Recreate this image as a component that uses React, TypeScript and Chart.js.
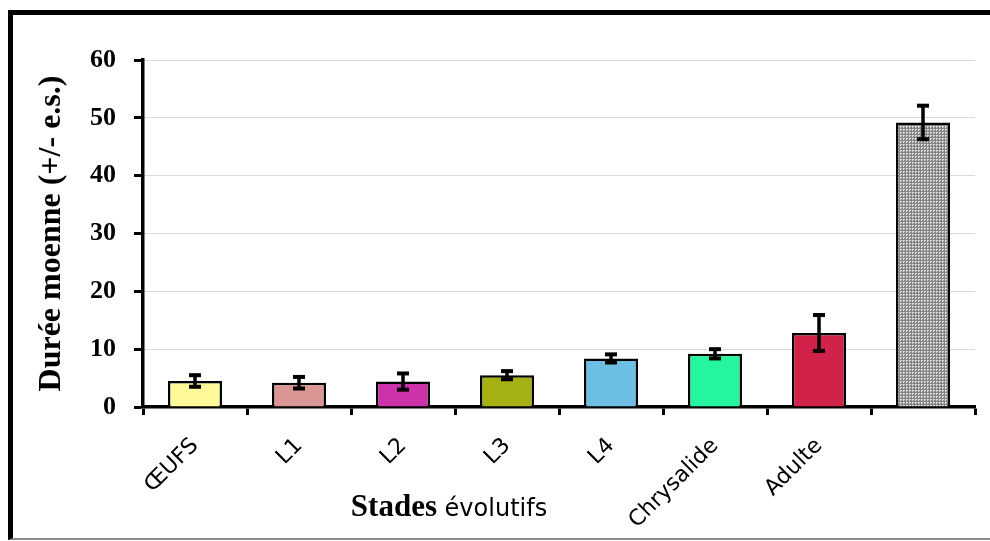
import React, { useEffect, useRef } from "react";
import { Chart, registerables } from "chart.js";

Chart.register(...registerables);

const categories = ["ŒUFS", "L1", "L2", "L3", "L4", "Chrysalide", "Adulte", ""];
const means = [4.5, 4.2, 4.4, 5.5, 8.4, 9.2, 12.8, 49.2];
const errors = [1.0, 1.0, 1.4, 0.7, 0.7, 0.8, 3.1, 2.9];
const barColors = ["#FFFA99", "#DA9694", "#CC33AA", "#A5B012", "#6DBEE3", "#26F5A0", "#D1234A", "PATTERN"];
const yTicks = [0, 10, 20, 30, 40, 50, 60];
const yTitle = "Durée moenne (+/- e.s.)";
const xTitleBold = "Stades";
const xTitleRest = " évolutifs";

function makePattern(): CanvasPattern | string {
  const c = document.createElement("canvas");
  c.width = 3;
  c.height = 3;
  const g = c.getContext("2d");
  if (!g) return "#A6A6A6";
  g.fillStyle = "#858585";
  g.fillRect(0, 0, 3, 3);
  g.fillStyle = "#DDDDDD";
  g.fillRect(0, 0, 2, 1);
  g.fillRect(0, 1, 1, 1);
  const p = g.createPattern(c, "repeat");
  return p || "#A6A6A6";
}

const errorBarPlugin = {
  id: "errorBars",
  afterDatasetsDraw(chart: any) {
    const ctx = chart.ctx;
    const meta = chart.getDatasetMeta(0);
    const yScale = chart.scales.y;
    ctx.save();
    ctx.strokeStyle = "#000";
    ctx.fillStyle = "#000";
    meta.data.forEach((bar: any, i: number) => {
      const v = means[i];
      const e = errors[i];
      const yTop = yScale.getPixelForValue(v + e);
      const yBot = yScale.getPixelForValue(v - e);
      const x = bar.x;
      ctx.lineWidth = 3.5;
      ctx.beginPath();
      ctx.moveTo(x, yTop);
      ctx.lineTo(x, yBot);
      ctx.stroke();
      const capW = 12;
      const capH = 4;
      ctx.fillRect(x - capW / 2, yTop - capH / 2, capW, capH);
      ctx.fillRect(x - capW / 2, yBot - capH / 2, capW, capH);
    });
    ctx.restore();
  },
};

const xTitlePlugin = {
  id: "xTitleMixed",
  afterDraw(chart: any) {
    const ctx = chart.ctx;
    ctx.save();
    const boldFont = 'bold 31px "Liberation Serif", "Times New Roman", serif';
    const regFont = '24px "DejaVu Sans", Verdana, sans-serif';
    ctx.font = boldFont;
    const w1 = ctx.measureText(xTitleBold).width;
    ctx.font = regFont;
    const w2 = ctx.measureText(xTitleRest).width;
    const cx = 449;
    const baseY = 516;
    let x = cx - (w1 + w2) / 2;
    ctx.fillStyle = "#000";
    ctx.textBaseline = "alphabetic";
    ctx.textAlign = "left";
    ctx.font = boldFont;
    ctx.fillText(xTitleBold, x, baseY);
    x += w1;
    ctx.font = regFont;
    ctx.fillText(xTitleRest, x, baseY);
    ctx.restore();
  },
};

export default function App() {
  const ref = useRef<HTMLCanvasElement | null>(null);

  useEffect(() => {
    if (!ref.current) return;
    const pattern = makePattern();
    const bg = barColors.map((c) => (c === "PATTERN" ? pattern : c));
    const chart = new Chart(ref.current, {
      type: "bar",
      data: {
        labels: categories,
        datasets: [
          {
            data: means,
            backgroundColor: bg as any,
            borderColor: "#000",
            borderWidth: 2.5,
            categoryPercentage: 1,
            barPercentage: 0.52,
          },
        ],
      },
      plugins: [errorBarPlugin, xTitlePlugin],
      options: {
        animation: false,
        responsive: false,
        devicePixelRatio: 1,
        layout: { padding: { top: 60, right: 15, left: 0, bottom: 0 } },
        plugins: {
          legend: { display: false },
          tooltip: { enabled: false },
        },
        scales: {
          x: {
            grid: {
              display: true,
              drawOnChartArea: false,
              offset: true,
              tickLength: 8,
              tickColor: "#000",
              tickWidth: 3,
            },
            border: { display: true, color: "#000", width: 3.5 },
            ticks: {
              color: "#000",
              minRotation: 45,
              maxRotation: 45,
              padding: 18,
              autoSkip: false,
              font: { family: '"DejaVu Sans", Verdana, sans-serif', size: 22 },
            },
            afterFit: (s: any) => {
              s.height = 134;
            },
          },
          y: {
            min: 0,
            max: 60,
            afterBuildTicks: (s: any) => {
              s.ticks = yTicks.map((v) => ({ value: v }));
            },
            grid: {
              color: "#D9D9D9",
              lineWidth: 1,
              tickLength: 9,
              tickColor: "#000",
              tickWidth: 3,
            },
            border: { display: true, color: "#000", width: 3.5 },
            ticks: {
              color: "#000",
              padding: 18,
              font: { family: '"Liberation Serif", "Times New Roman", serif', size: 26, weight: "bold" },
            },
            title: {
              display: true,
              text: yTitle,
              color: "#000",
              padding: { top: 33, bottom: 0 },
              font: { family: '"Liberation Serif", "Times New Roman", serif', size: 32, weight: "bold" },
            },
            afterFit: (s: any) => {
              s.width = 143;
            },
          },
        },
      },
    });
    return () => chart.destroy();
  }, []);

  return (
    <>
      <div
        style={{
          position: "fixed",
          left: 8,
          top: 10,
          width: 990,
          height: 530,
          boxSizing: "border-box",
          borderTop: "5px solid #000",
          borderLeft: "5px solid #000",
          borderBottom: "2px solid #8C8C8C",
        }}
      />
      <div style={{ position: "fixed", left: 0, top: 0, width: 990, height: 541 }}>
        <canvas ref={ref} width={990} height={541} style={{ display: "block", width: 990, height: 541 }} />
      </div>
    </>
  );
}
